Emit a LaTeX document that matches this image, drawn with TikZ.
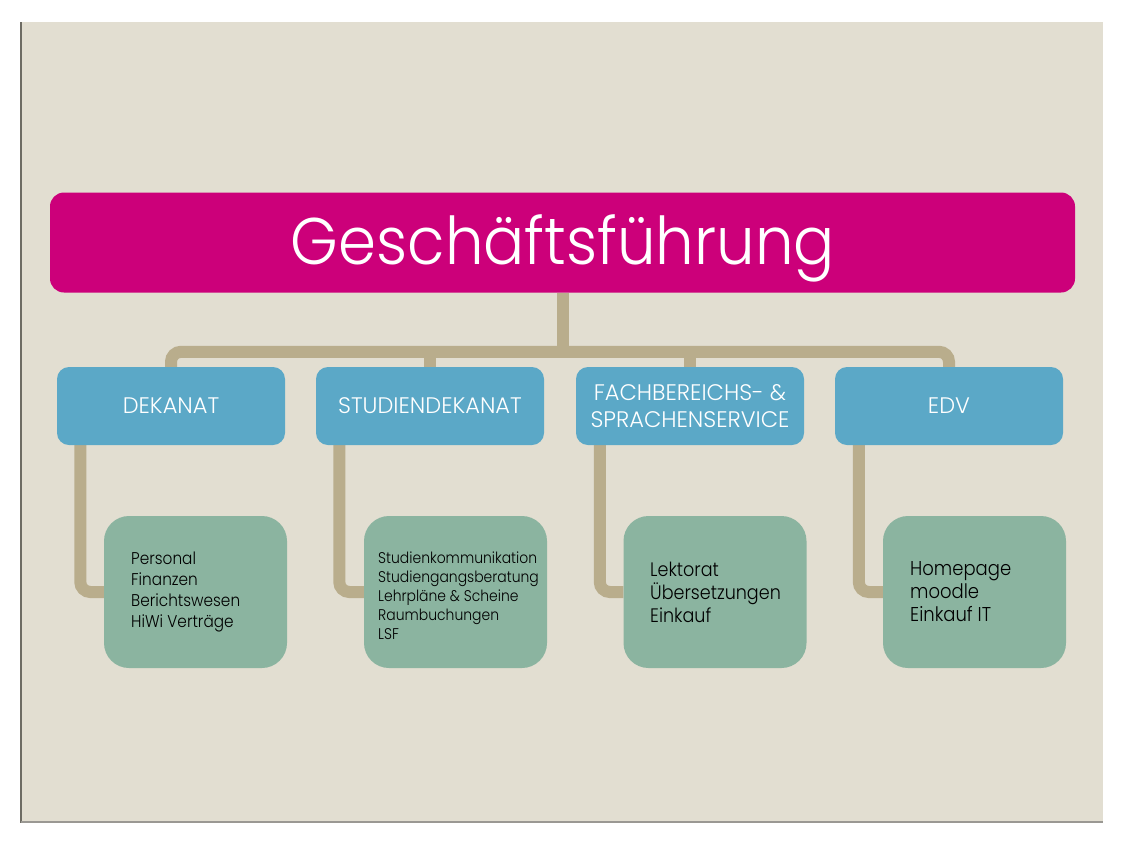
\documentclass[tikz,border=0pt]{standalone}
\usepackage{fontspec}
\setmainfont{Poppins}[UprightFont=* Light]
\newfontfamily\condfont{Poppins}[UprightFont=* Light, FakeStretch=0.9]
\definecolor{pinkc}{RGB}{204,0,122}
\definecolor{bluec}{RGB}{91,168,199}
\definecolor{greenc}{RGB}{139,180,160}
\definecolor{tanc}{RGB}{185,173,140}
\definecolor{beigec}{RGB}{226,222,209}
\definecolor{edgec}{RGB}{110,108,100}
\pgfdeclarelayer{bg}
\pgfsetlayers{bg,main}
\begin{document}
\begin{tikzpicture}[x=1pt,y=-1pt,
  topbox/.style={rectangle, rounded corners=14pt, fill=pinkc, minimum width=1025pt, minimum height=100pt, inner sep=0pt},
  toptext/.style={anchor=base, inner sep=0pt, text=white, font=\fontsize{61}{61}\selectfont},
  deptbox/.style={rectangle, rounded corners=12pt, fill=bluec, minimum width=228pt, minimum height=78pt, inner sep=0pt, text=white, align=center, font=\fontsize{22.5}{27}\selectfont},
  taskbox/.style={rectangle, rounded corners=25pt, fill=greenc, minimum width=183pt, minimum height=152pt, inner sep=0pt},
  tasktext/.style={anchor=west, align=left, inner sep=0pt, text=black},
  conn/.style={draw=tanc, line width=12pt, rounded corners=10pt}
]
\useasboundingbox (0,0) rectangle (1125,844);

\node[topbox] (gf) at (562.5,242.5) {};
\node[toptext] (gft) at (563,264) {\scalebox{1}[1.08]{Geschäftsführung}};

\node[deptbox] (dek)  at (171,406) {DEKANAT};
\node[deptbox] (stud) at (430,406) {STUDIENDEKANAT};
\node[deptbox] (fach) at (690,406) {FACHBEREICHS- \&\\SPRACHENSERVICE};
\node[deptbox] (edv)  at (949,406) {EDV};

\node[taskbox] (g1) at (195.5,592) {};
\node[taskbox] (g2) at (455.5,592) {};
\node[taskbox] (g3) at (715,592) {};
\node[taskbox] (g4) at (974.5,592) {};

\node[tasktext, font=\condfont\fontsize{17}{21}\selectfont] (t1) at (131,592) {Personal\\Finanzen\\Berichtswesen\\HiWi Verträge};
\node[tasktext, font=\condfont\fontsize{15.5}{19}\selectfont] (t2) at (378,596) {Studienkommunikation\\Studiengangsberatung\\Lehrpläne \& Scheine\\Raumbuchungen\\LSF};
\node[tasktext, font=\condfont\fontsize{19.5}{23}\selectfont] (t3) at (650,592) {Lektorat\\Übersetzungen\\Einkauf};
\node[tasktext, font=\condfont\fontsize{20}{23}\selectfont] (t4) at (910,592) {Homepage\\moodle\\Einkauf IT};

\begin{pgfonlayer}{bg}
  \fill[white] (0,0) rectangle (1125,844);
  \fill[beigec] (21,22) rectangle (1103,822);
  \draw[edgec, line width=1.2pt] (21,22) -- (21,822.5);
  \draw[edgec!70, line width=1.2pt] (21,822) -- (1103,822);
  \draw[conn] (gf.south) -- ++(0,59);
  \draw[conn] (dek.north) -- ++(0,-15) -| (edv.north);
  \draw[conn] (stud.north) -- ++(0,-15);
  \draw[conn] (fach.north) -- ++(0,-15);
  \draw[conn] ([xshift=23.5pt]dek.south west) |- (g1.west);
  \draw[conn] ([xshift=23.5pt]stud.south west) |- (g2.west);
  \draw[conn] ([xshift=24pt]fach.south west) |- (g3.west);
  \draw[conn] ([xshift=24pt]edv.south west) |- (g4.west);
\end{pgfonlayer}
\end{tikzpicture}
\end{document}
